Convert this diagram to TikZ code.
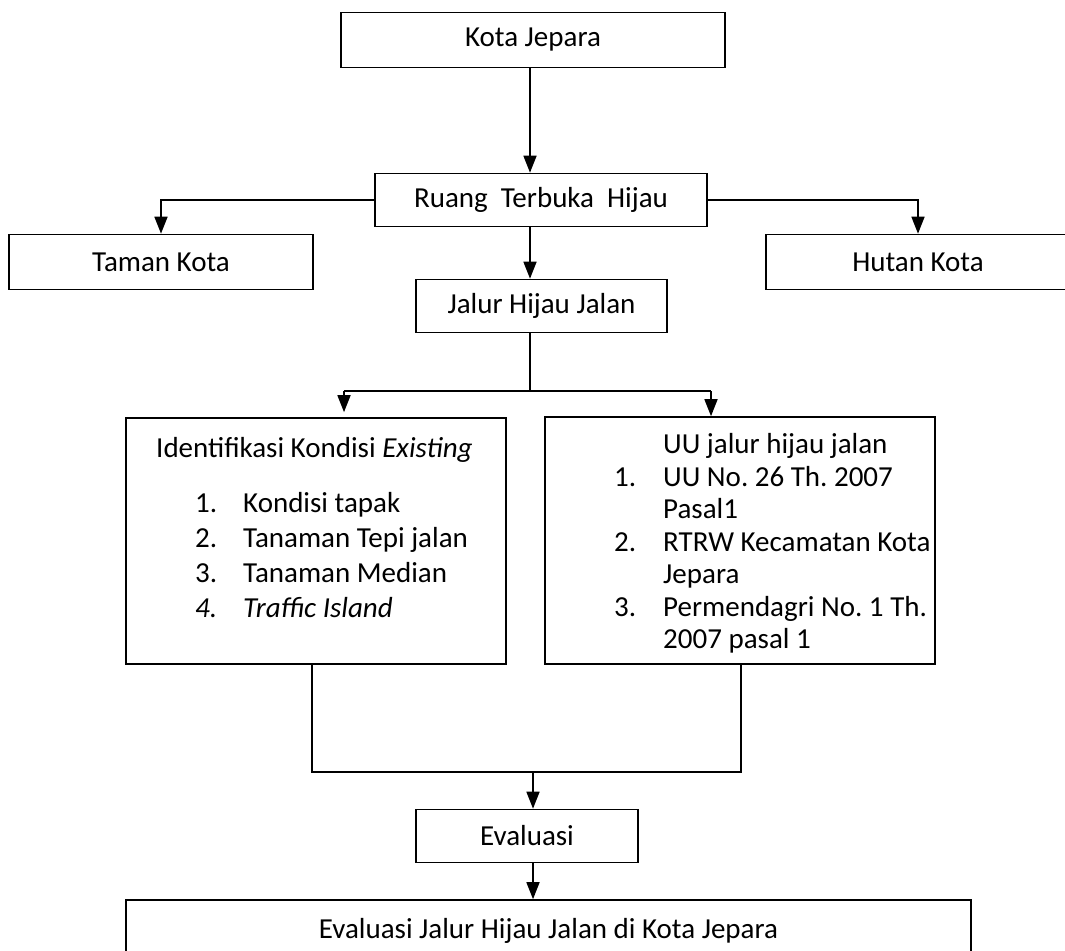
\documentclass[tikz,border=0pt]{standalone}
\usepackage{fontspec}
\setmainfont{Carlito}
\usetikzlibrary{arrows.meta}
\frenchspacing
\begin{document}
\begin{tikzpicture}[x=1pt,y=-1pt,
  every node/.style={font=\fontsize{29}{34}\selectfont},
  box/.style={draw,line width=1.6pt,rectangle,inner sep=0pt},
  txt/.style={anchor=base west,inner sep=0pt},
  ln/.style={line width=1.6pt},
  arr/.style={ln,-{Triangle[length=17pt,width=13pt]}}]
\useasboundingbox (0,0) rectangle (1065,950);
\clip (0,0) rectangle (1065,950);
% boxes
\node[box,minimum width=384pt,minimum height=55pt] (kota) at (533,40) {Kota Jepara};
\node[box,minimum width=332pt,minimum height=53pt] (ruang) at (541,200) {Ruang\ \ Terbuka\ \ Hijau};
\node[box,minimum width=304pt,minimum height=55pt] (taman) at (161,262) {Taman Kota};
\node[box,minimum width=304pt,minimum height=55pt] (hutan) at (918,262) {Hutan Kota};
\node[box,minimum width=251pt,minimum height=53pt] (jalur) at (541.5,306) {Jalur Hijau Jalan};
\node[box,minimum width=380pt,minimum height=246pt] (ident) at (316,541) {};
\node[box,minimum width=390pt,minimum height=247pt] (uu) at (740,540.5) {};
\node[box,minimum width=222pt,minimum height=53pt] (eval) at (527,836) {Evaluasi};
\node[box,minimum width=845pt,minimum height=62pt] (final) at (548.5,931) {Evaluasi Jalur Hijau Jalan di Kota Jepara};
% left list
\node[txt] (ih) at (156,457) {Identifikasi Kondisi \textit{Existing}};
\node[txt] (in1) at (195,512) {1.};
\node[txt] (it1) at (243,512) {Kondisi tapak};
\node[txt] (in2) at (195,547) {2.};
\node[txt] (it2) at (243,547) {Tanaman Tepi jalan};
\node[txt] (in3) at (195,582) {3.};
\node[txt] (it3) at (243,582) {Tanaman Median};
\node[txt] (in4) at (195,617) {\textit{4.}};
\node[txt] (it4) at (243,617) {\textit{Traffic Island}};
% right list
\node[txt] (uh) at (663,453) {UU jalur hijau jalan};
\node[txt] (un1) at (614,486) {1.};
\node[txt] (ut1) at (663,486) {UU No. 26 Th. 2007};
\node[txt] (ut1b) at (663,518) {Pasal1};
\node[txt] (un2) at (614,551) {2.};
\node[txt] (ut2) at (663,551) {RTRW Kecamatan Kota};
\node[txt] (ut2b) at (663,583) {Jepara};
\node[txt] (un3) at (614,616) {3.};
\node[txt] (ut3) at (663,616) {Permendagri No. 1 Th.};
\node[txt] (ut3b) at (663,648) {2007 pasal 1};
% helper coordinates
\coordinate (ax) at (530,0);
\coordinate (split) at (530,391);
\coordinate (la) at (344,391);
\coordinate (ra) at (711,391);
\coordinate (lb) at (312,772);
\coordinate (rb) at (741,772);
\coordinate (m) at (533,772);
% connectors
\draw[arr] (kota.south -| ax) -- (ruang.north -| ax);
\draw[arr] (ruang.west) -| (taman.north);
\draw[arr] (ruang.east) -| (hutan.north);
\draw[arr] (ruang.south -| ax) -- (jalur.north -| ax);
\draw[ln] (jalur.south -| ax) -- (split);
\draw[ln] (la) -- (ra);
\draw[arr,shorten >=5pt] (la) -- (ident.north -| la);
\draw[arr] (ra) -- (uu.north -| ra);
\draw[ln] (ident.south -| lb) -- (lb) -- (rb) -- (uu.south -| rb);
\draw[arr] (m) -- (eval.north -| m);
\draw[arr] (eval.south -| m) -- (final.north -| m);
\end{tikzpicture}
\end{document}
